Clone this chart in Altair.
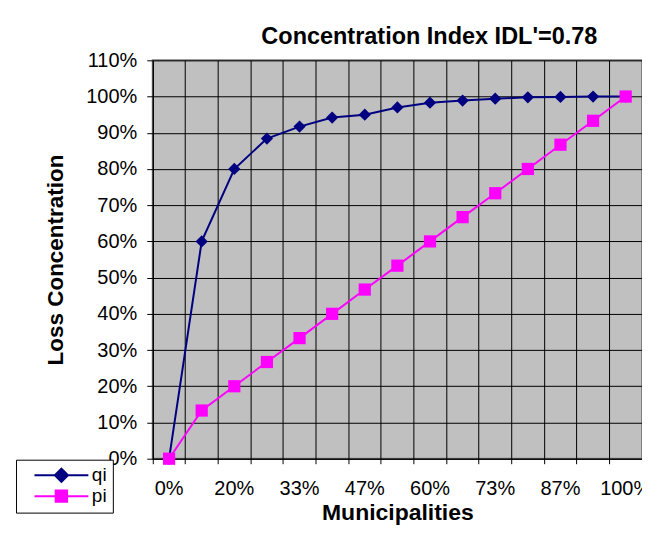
import altair as alt
import pandas as pd

categories = ["0%", "13%", "20%", "27%", "33%", "40%", "47%", "53%",
              "60%", "67%", "73%", "80%", "87%", "93%", "100%"]
shown_labels = categories[::2]
qi = [0.0, 0.60, 0.80, 0.884, 0.917, 0.942, 0.950, 0.970,
      0.983, 0.989, 0.994, 0.998, 0.999, 1.0, 1.0]
pi = [0.0, 0.133, 0.20, 0.267, 0.333, 0.40, 0.467, 0.533,
      0.60, 0.667, 0.733, 0.80, 0.867, 0.933, 1.0]
series_names = ["qi", "pi"]
series_colors = ["#000080", "#FF00FF"]
series_shapes = ["diamond", "square"]
legend_paths = ["M0.5,0L9.5,0M5,-1.1L6.1,0L5,1.1L3.9,0Z",
                "M0.5,0L9.5,0M4.05,-0.95L5.95,-0.95L5.95,0.95L4.05,0.95Z"]
y_ticks = [0.0, 0.1, 0.2, 0.3, 0.4, 0.5, 0.6, 0.7, 0.8, 0.9, 1.0, 1.1]

rows = []
for name, col, shp, vals in zip(series_names, series_colors, series_shapes, [qi, pi]):
    for i, (c, v) in enumerate(zip(categories, vals)):
        rows.append({"series": name, "cat": c, "value": v, "col": col, "shp": shp, "order": i})
df = pd.DataFrame(rows)

W, H = 490, 399
font = "Liberation Sans"

label_arr = "[" + ",".join("'%s'" % s for s in shown_labels) + "]"

x_enc = alt.X(
    "cat:N", sort=categories, bandPosition=0.5,
    scale=alt.Scale(type="band", paddingInner=0, paddingOuter=0),
    axis=alt.Axis(
        title="Municipalities", bandPosition=0,
        labelAngle=0, grid=True, gridColor="#000000", gridOpacity=1, gridWidth=1,
        ticks=True, tickSize=5, tickColor="#000000", domainColor="#000000",
        labelExpr="indexof(" + label_arr + ", datum.label) >= 0 ? datum.label : ''",
        labelOverlap=False, labelBound=False, labelFont=font, labelFontSize=20,
        labelColor="#000000", labelPadding=15, titleFont=font, titleFontSize=23,
        titleFontWeight="bold", titleColor="#000000", titlePadding=3,
    ),
)
y_enc = alt.Y(
    "value:Q",
    scale=alt.Scale(domain=[0, 1.1], nice=False, zero=True),
    axis=alt.Axis(
        title="Loss Concentration", values=y_ticks, format=".0%",
        grid=True, gridColor="#000000", gridOpacity=1, gridWidth=1,
        ticks=True, tickSize=6, tickColor="#000000", domainColor="#000000",
        labelFont=font, labelFontSize=20, labelColor="#000000", labelPadding=10,
        titleFont=font, titleFontSize=22.5, titleFontWeight="bold",
        titleColor="#000000", titlePadding=18,
    ),
)

base = alt.Chart(df)

lines = base.mark_line(strokeWidth=2).encode(
    x=x_enc, y=y_enc,
    color=alt.Color("col:N", scale=None),
    detail="series:N",
    order="order:Q",
)
points = base.mark_point(filled=True, size=150, opacity=1).encode(
    x=x_enc, y=y_enc,
    color=alt.Color("col:N", scale=None),
    shape=alt.Shape("shp:N", scale=None),
)
leg = alt.Legend(
    title=None, orient="none", legendX=-137, legendY=400,
    symbolSize=144, symbolStrokeWidth=2, symbolOpacity=1,
    labelFont=font, labelFontSize=19, labelColor="#000000", labelOffset=51,
    rowPadding=-3, padding=6, strokeColor="#000000", fillColor="#FFFFFF",
)
legend_layer = base.mark_point(filled=True, opacity=0, size=144, strokeWidth=2).encode(
    x=x_enc, y=y_enc,
    fill=alt.Fill("series:N", scale=alt.Scale(domain=series_names, range=series_colors), legend=leg),
    stroke=alt.Stroke("series:N", scale=alt.Scale(domain=series_names, range=series_colors), legend=leg),
    shape=alt.Shape("series:N", scale=alt.Scale(domain=series_names, range=legend_paths), legend=leg),
)

chart = alt.layer(lines, points, legend_layer).properties(
    width=W, height=H,
    title=alt.TitleParams(
        "Concentration Index IDL'=0.78", font=font, fontSize=23.5, fontWeight="bold",
        color="#000000", anchor="middle", dx=32, offset=2,
    ),
    autosize=alt.AutoSizeParams(type="none"),
    padding={"left": 145, "top": 52, "right": 0, "bottom": 66},
).configure(
    background="#FFFFFF",
).configure_view(
    fill="#C0C0C0", stroke="#808080", strokeWidth=2,
)

chart.save("out.html", embed_options={"renderer": "svg", "actions": False})
